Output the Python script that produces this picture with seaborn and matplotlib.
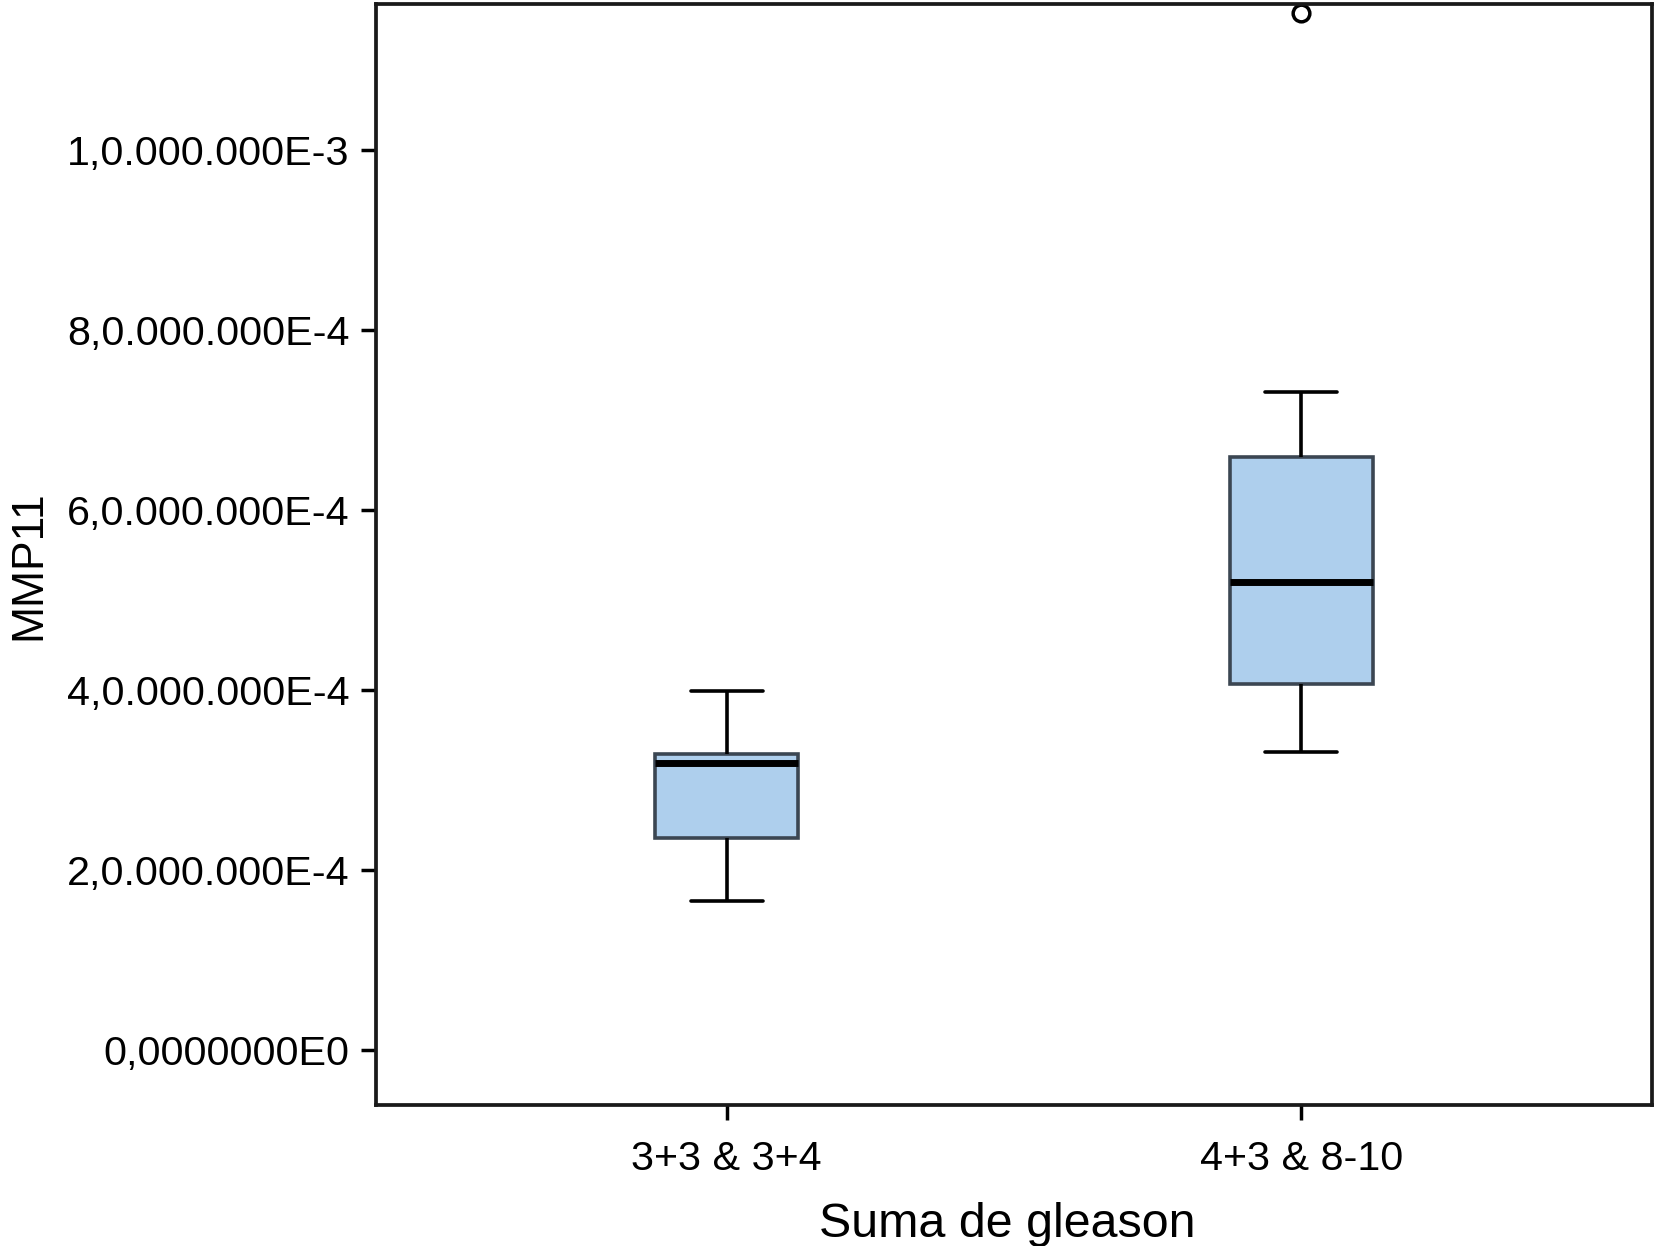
import matplotlib
matplotlib.use("Agg")
import matplotlib.pyplot as plt
import seaborn as sns
import pandas as pd

# ---- data ----
categories = ["3+3 & 3+4", "4+3 & 8-10"]
group_low = [0.1656e-3, 0.2355e-3, 0.3192e-3, 0.3289e-3, 0.3989e-3]
group_high = [0.331e-3, 0.370e-3, 0.4063e-3, 0.460e-3, 0.5196e-3,
              0.590e-3, 0.6585e-3, 0.7315e-3, 1.152e-3]
y_ticks = [0.0, 2e-4, 4e-4, 6e-4, 8e-4, 1e-3]
y_tick_labels = ["0,0000000E0", "2,0.000.000E-4", "4,0.000.000E-4",
                 "6,0.000.000E-4", "8,0.000.000E-4", "1,0.000.000E-3"]
x_label = "Suma de gleason"
y_label = "MMP11"

df = pd.DataFrame({
    "group": [categories[0]] * len(group_low) + [categories[1]] * len(group_high),
    "value": group_low + group_high,
})

sns.set_style("ticks")
plt.rcParams["font.family"] = ["Liberation Sans", "DejaVu Sans"]
plt.rcParams["text.color"] = "black"
plt.rcParams["axes.labelcolor"] = "black"

fig = plt.figure(figsize=(16.58, 12.46), dpi=100)
ax = fig.add_axes([0.2268, 0.1132, 0.7696, 0.8836])

sns.boxplot(data=df, x="group", y="value", order=categories, ax=ax,
            color="#aecfed", saturation=1, width=0.25, linecolor="black",
            linewidth=2.6, fliersize=12,
            medianprops={"linewidth": 5.0, "color": "black"},
            flierprops={"marker": "o", "markerfacecolor": "white",
                        "markeredgecolor": "black", "markeredgewidth": 2.5})

for p in ax.patches:
    p.set_edgecolor("#3b4652")
    p.set_linewidth(2.6)

ax.set_xlim(-0.61, 1.61)
ax.set_ylim(-0.0611e-3, 1.1622e-3)
ax.set_yticks(y_ticks)
ax.set_yticklabels(y_tick_labels)

for s in ax.spines.values():
    s.set_visible(True)
    s.set_linewidth(2.7)
    s.set_color("#1a1a1a")

ax.tick_params(axis="both", direction="out", length=11, width=2.5,
               labelsize=29.7, colors="black")
ax.tick_params(axis="x", pad=14)
ax.tick_params(axis="y", pad=8)

ax.set_xlabel(x_label, fontsize=34.8, color="black")
ax.set_ylabel(y_label, fontsize=32, color="black")
ax.xaxis.set_label_coords(0.4945, -0.088)
ax.yaxis.set_label_coords(-0.256, 0.49)
ax.xaxis.label.set_va("top")

fig.savefig("out.png", dpi=100)
